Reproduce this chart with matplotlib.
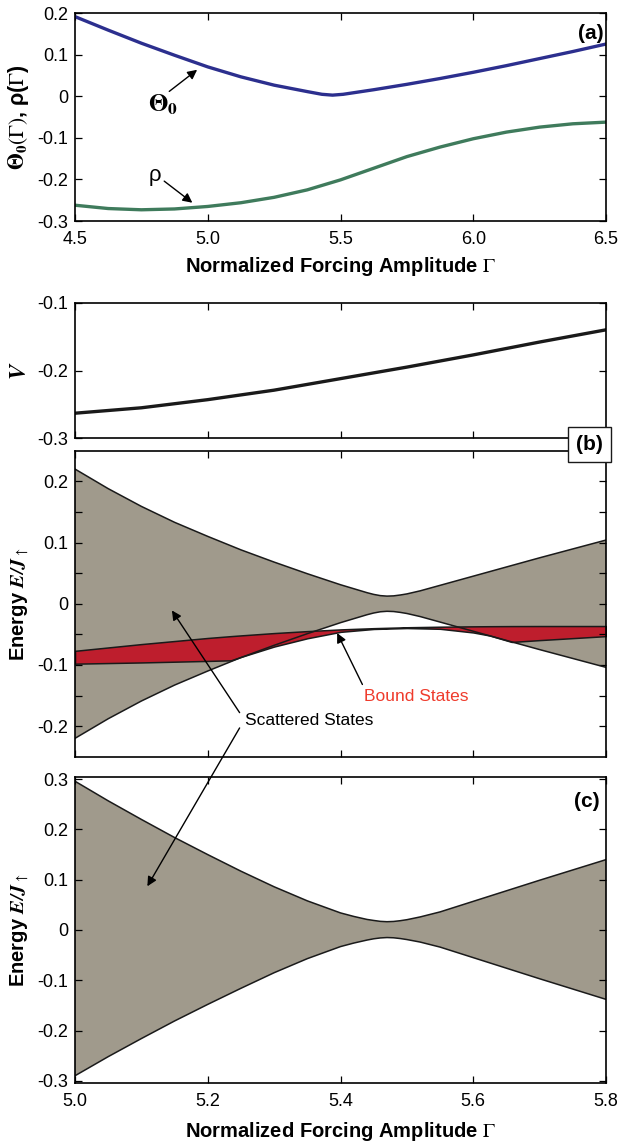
import numpy as np
import matplotlib
matplotlib.use("Agg")
import matplotlib.pyplot as plt
from matplotlib.ticker import FuncFormatter, FixedLocator

plt.rcParams['font.family'] = ['Liberation Sans', 'DejaVu Sans']
plt.rcParams['mathtext.fontset'] = 'stix'
plt.rcParams['axes.unicode_minus'] = False

# ---------------- data ----------------
# panel (a)
xa = [4.5, 4.625, 4.75, 4.875, 5.0, 5.125, 5.25, 5.375, 5.43, 5.47, 5.51, 5.625, 5.75,
      5.875, 6.0, 6.125, 6.25, 6.375, 6.5]
theta0 = [0.192, 0.1595, 0.128, 0.099, 0.071, 0.047, 0.027, 0.0115, 0.005, 0.003, 0.005,
          0.016, 0.029, 0.043, 0.058, 0.074, 0.091, 0.108, 0.126]
xr = [4.5, 4.625, 4.75, 4.875, 5.0, 5.125, 5.25, 5.375, 5.5, 5.625, 5.75, 5.875,
      6.0, 6.125, 6.25, 6.375, 6.5]
rho = [-0.262, -0.270, -0.273, -0.271, -0.265, -0.256, -0.243, -0.225, -0.201, -0.173,
       -0.145, -0.122, -0.102, -0.086, -0.074, -0.066, -0.062]

# panel V
xv = [5.0, 5.1, 5.2, 5.3, 5.4, 5.5, 5.6, 5.7, 5.8]
V = [-0.263, -0.255, -0.243, -0.229, -0.212, -0.195, -0.177, -0.158, -0.140]

# panel (b): band edges of the scattered states
xb = [5.0, 5.05, 5.1, 5.15, 5.2, 5.25, 5.3, 5.35, 5.4, 5.42, 5.44, 5.45, 5.46, 5.47,
      5.48, 5.49, 5.5, 5.52, 5.55, 5.6, 5.65, 5.7, 5.75, 5.8]
band_b_top = [0.220, 0.188, 0.159, 0.133, 0.110, 0.088, 0.068, 0.049, 0.031, 0.0245,
              0.018, 0.0152, 0.0132, 0.0124, 0.0128, 0.0142, 0.016, 0.021, 0.030, 0.045,
              0.060, 0.075, 0.0895, 0.104]
band_b_bot = [-0.220, -0.188, -0.159, -0.133, -0.110, -0.088, -0.068, -0.049, -0.031,
              -0.0245, -0.018, -0.0152, -0.0132, -0.0124, -0.0128, -0.0142, -0.016,
              -0.021, -0.030, -0.045, -0.060, -0.075, -0.0895, -0.104]
# panel (b): bound states
xs = [5.0, 5.1, 5.2, 5.235, 5.25, 5.3, 5.35, 5.4, 5.45, 5.5, 5.55, 5.6, 5.625, 5.658,
      5.7, 5.8]
bound_top = [-0.077, -0.066, -0.056, -0.053, -0.0518, -0.048, -0.0448, -0.042, -0.040,
             -0.0385, -0.0376, -0.037, -0.0368, -0.0366, -0.0365, -0.0365]
bound_bot = [-0.098, -0.096, -0.0935, -0.0925, -0.087, -0.070, -0.0565, -0.046, -0.0413,
             -0.0398, -0.041, -0.047, -0.052, -0.0625, -0.0595, -0.053]

# panel (c)
xc = [5.0, 5.05, 5.1, 5.15, 5.2, 5.25, 5.3, 5.35, 5.4, 5.42, 5.44, 5.45, 5.46, 5.47,
      5.48, 5.49, 5.5, 5.52, 5.55, 5.6, 5.65, 5.7, 5.75, 5.8]
band_c_top = [0.296, 0.257, 0.220, 0.184, 0.150, 0.117, 0.086, 0.058, 0.034, 0.027,
              0.021, 0.019, 0.0172, 0.0165, 0.017, 0.0185, 0.0205, 0.026, 0.036, 0.057,
              0.078, 0.099, 0.1195, 0.140]
band_c_bot = [-0.290, -0.252, -0.216, -0.181, -0.148, -0.116, -0.085, -0.057, -0.033,
              -0.026, -0.020, -0.0175, -0.0158, -0.015, -0.0155, -0.017, -0.019, -0.024,
              -0.034, -0.055, -0.076, -0.097, -0.1175, -0.138]

# ---------------- style ----------------
BLUE = '#2c2f8e'
GREEN = '#3f7b5c'
GRAY = '#a09a8c'
RED = '#be1e2d'
LABEL_RED = '#ef3b2c'
EDGE = '#1a1a1a'
TICK_FS = 13
LAB_FS = 14.5


def yfmt(v, pos):
    if abs(v) < 1e-9:
        return '0'
    return f'{v:.1f}'


def style_axes(ax):
    for s in ax.spines.values():
        s.set_linewidth(1.2)
    ax.tick_params(direction='in', which='both', top=True, right=True, length=5,
                   width=0.9, labelsize=TICK_FS, pad=5)
    ax.tick_params(axis='x', pad=7)
    ax.yaxis.set_major_formatter(FuncFormatter(yfmt))


fig = plt.figure(figsize=(6.19, 11.46), dpi=100)
L, W = 75 / 619, (606 - 75) / 619


def make_ax(top_px, bot_px):
    return fig.add_axes([L, 1 - bot_px / 1146, W, (bot_px - top_px) / 1146])


ax_a = make_ax(13.3, 221)
ax_v = make_ax(302.7, 438.3)
ax_b = make_ax(450.7, 756.7)
ax_c = make_ax(776.7, 1083.3)

arrow_kw = dict(arrowstyle='-|>', color='black', lw=1.0, mutation_scale=14,
                shrinkA=0, shrinkB=0)

# ---- panel (a)
ax_a.plot(xa, theta0, color=BLUE, lw=2.4, solid_joinstyle='round')
ax_a.plot(xr, rho, color=GREEN, lw=2.4, solid_joinstyle='round')
ax_a.set_xlim(4.5, 6.5)
ax_a.set_ylim(-0.3, 0.2)
ax_a.set_xticks([4.5, 5.0, 5.5, 6.0, 6.5])
ax_a.set_xticklabels(['4.5', '5.0', '5.5', '6.0', '6.5'])
ax_a.set_yticks([-0.3, -0.2, -0.1, 0, 0.1, 0.2])
style_axes(ax_a)
ax_a.set_xlabel(r'Normalized Forcing Amplitude $\mathit{\Gamma}$', fontsize=LAB_FS,
                fontweight='bold', labelpad=5)
ax_a.set_ylabel(r'$\mathbf{\Theta}_\mathbf{0}(\mathit{\Gamma})$, ρ($\mathit{\Gamma}$)',
                fontsize=LAB_FS + 1, fontweight='bold')
ax_a.annotate('', xy=(4.96, 0.064), xytext=(4.855, 0.012), arrowprops=arrow_kw)
ax_a.text(4.83, -0.02, r'$\mathbf{\Theta}_\mathbf{0}$', fontsize=18, ha='center',
          va='center')
ax_a.annotate('', xy=(4.942, -0.256), xytext=(4.836, -0.204), arrowprops=arrow_kw)
ax_a.text(4.80, -0.19, 'ρ', fontsize=16, ha='center', va='center')
ax_a.text(6.49, 0.152, '(a)', fontsize=15, fontweight='bold', ha='right', va='center')

# ---- panel V
ax_v.plot(xv, V, color=EDGE, lw=2.4)
ax_v.set_xlim(5.0, 5.8)
ax_v.set_ylim(-0.3, -0.1)
ax_v.set_xticks([5.0, 5.2, 5.4, 5.6, 5.8])
ax_v.set_yticks([-0.3, -0.2, -0.1])
style_axes(ax_v)
ax_v.tick_params(labelbottom=False)
ax_v.set_ylabel(r'$\mathbfit{V}$', fontsize=LAB_FS + 2)

# ---- panel (b)
ax_b.fill_between(xb, band_b_bot, band_b_top, facecolor=GRAY, edgecolor='none')
ax_b.plot(xb, band_b_top, color=EDGE, lw=1.1)
ax_b.plot(xb, band_b_bot, color=EDGE, lw=1.1)
ax_b.fill_between(xs, bound_bot, bound_top, facecolor=RED, edgecolor=EDGE, lw=1.1)
ax_b.set_xlim(5.0, 5.8)
ax_b.set_ylim(-0.25, 0.25)
ax_b.set_xticks([5.0, 5.2, 5.4, 5.6, 5.8])
ax_b.set_yticks([-0.2, -0.1, 0, 0.1, 0.2])
ax_b.yaxis.set_minor_locator(FixedLocator([-0.15, -0.05, 0.05, 0.15]))
style_axes(ax_b)
ax_b.tick_params(labelbottom=False)
ax_b.set_ylabel(r'Energy $\mathbfit{E/J}_{\uparrow}$', fontsize=LAB_FS,
                fontweight='bold')
ax_b.text(5.256, -0.191, 'Scattered States', fontsize=12.5, ha='left', va='center')
ax_b.text(5.436, -0.152, 'Bound States', fontsize=12.5, color=LABEL_RED, ha='left',
          va='center')
ax_b.annotate('', xy=(5.395, -0.048), xytext=(5.433, -0.132), arrowprops=arrow_kw)
ax_b.annotate('', xy=(5.146, -0.011), xytext=(5.248, -0.178), arrowprops=arrow_kw)

# ---- panel (c)
ax_c.fill_between(xc, band_c_bot, band_c_top, facecolor=GRAY, edgecolor='none')
ax_c.plot(xc, band_c_top, color=EDGE, lw=1.1)
ax_c.plot(xc, band_c_bot, color=EDGE, lw=1.1)
ax_c.set_xlim(5.0, 5.8)
ax_c.set_ylim(-0.305, 0.305)
ax_c.set_xticks([5.0, 5.2, 5.4, 5.6, 5.8])
ax_c.set_xticklabels(['5.0', '5.2', '5.4', '5.6', '5.8'])
ax_c.set_yticks([-0.3, -0.2, -0.1, 0, 0.1, 0.2, 0.3])
style_axes(ax_c)
ax_c.set_xlabel(r'Normalized Forcing Amplitude $\mathit{\Gamma}$', fontsize=LAB_FS,
                fontweight='bold', labelpad=7)
ax_c.set_ylabel(r'Energy $\mathbfit{E/J}_{\uparrow}$', fontsize=LAB_FS,
                fontweight='bold')
ax_c.text(5.79, 0.255, '(c)', fontsize=15, fontweight='bold', ha='right', va='center')
ax_c.annotate('', xy=(5.109, 0.087), xycoords='data',
              xytext=(5.248, -0.203), textcoords=ax_b.transData,
              arrowprops=arrow_kw, annotation_clip=False)

# (b) boxed label straddling V and (b) panels
fig.text(589.5 / 619, 1 - 444.5 / 1146, '(b)', fontsize=15, fontweight='bold',
         ha='center', va='center',
         bbox=dict(boxstyle='square,pad=0.38', facecolor='white', edgecolor=EDGE,
                   lw=1.0))

# y labels aligned at the same horizontal position
for ax in (ax_a, ax_v, ax_b, ax_c):
    ax.yaxis.set_label_coords(-0.083, 0.5)

fig.savefig('out.png', dpi=100)
